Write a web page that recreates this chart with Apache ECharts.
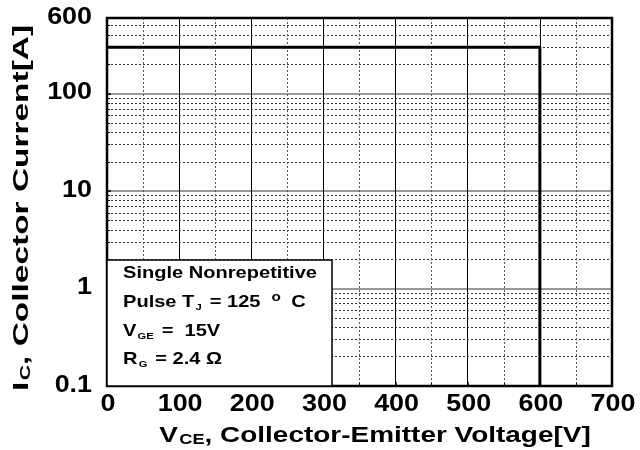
<!DOCTYPE html>
<html>
<head>
<meta charset="utf-8">
<script src="https://cdn.jsdelivr.net/npm/echarts@6/dist/echarts.min.js"></script>
<style>html,body{margin:0;padding:0;background:#fff}#c{width:640px;height:450px}</style>
</head>
<body>
<div id="c"></div>
<script>
var soaX = [0, 600, 600];
var soaY = [300, 300, 0.1];
var xTickValues = [0, 100, 200, 300, 400, 500, 600, 700];
var yTickValues = [0.1, 1, 10, 100, 600];
var yMinorValues = [0.2,0.3,0.4,0.5,0.6,0.7,0.8,0.9,2,3,4,5,6,7,8,9,20,30,40,50,60,70,80,90,200,300,400,500];
var xMin = 0, xMax = 700, xInterval = 100;
var yMin = 0.1, yMax = 600;
var noteLines = [
  '{b|Single Nonrepetitive}',
  '{b|Pulse T}{s|J}{b| = 125  }{o|o}{b| C}',
  '{b|V}{s|GE}{b| =  15V}',
  '{b|R}{s|G}{b| = 2.4 Ω}'
];
var xTitle = '{b|V}{s|CE}{b|, Collector-Emitter Voltage[V]}';
var yTitle = '{b|I}{s|C}{b|, Collector Current[A]}';

var FONT = 'Liberation Sans';
var chart = echarts.init(document.getElementById('c'), null, {renderer: 'canvas'});
var lineData = soaX.map(function (x, i) { return [x, soaY[i]]; });

chart.setOption({
  animation: false,
  backgroundColor: '#fff',
  grid: {left: 107, right: 28, top: 18, bottom: 64, show: true, borderColor: '#000', borderWidth: 2.5, backgroundColor: 'transparent', z: 3},
  xAxis: {
    type: 'value', min: xMin, max: xMax, interval: xInterval,
    axisLine: {show: false},
    axisTick: {show: true, inside: true, length: 4, lineStyle: {color: '#000', width: 1.5}},
    minorTick: {show: true, splitNumber: 2, length: 3, lineStyle: {color: '#000'}},
    axisLabel: {show: false},
    splitLine: {show: true, lineStyle: {color: '#000', width: 1}},
    minorSplitLine: {show: true, lineStyle: {color: '#555', width: 1, type: [2, 2]}}
  },
  yAxis: [{
    type: 'log', logBase: 10, min: yMin, max: yMax,
    axisLine: {show: false},
    axisTick: {show: true, inside: true, length: 4, lineStyle: {color: '#000', width: 1.5}},
    axisLabel: {show: false},
    splitLine: {show: true, lineStyle: {color: '#777', width: 1.5}}
  }, {
    type: 'log', logBase: 10, min: yMin, max: yMax, position: 'left',
    axisLine: {show: false},
    axisLabel: {show: false},
    axisTick: {show: true, inside: true, length: 3, lineStyle: {color: '#000'}, customValues: yMinorValues},
    splitLine: {show: true, lineStyle: {color: '#333', width: 1, type: [2, 2]}}
  }],
  series: [{
    type: 'line', data: lineData, symbol: 'none', z: 5,
    lineStyle: {color: '#000', width: 3}
  }]
});

var bold = function (size) { return {fontFamily: FONT, fontWeight: 'bold', fontSize: size, color: '#000'}; };
var graphics = [];
// tick labels positioned through the axes' own scales
xTickValues.forEach(function (v) {
  var px = chart.convertToPixel({xAxisIndex: 0}, v);
  graphics.push({type: 'text', z: 30, x: px + 1, y: 404, scaleX: 1.12,
    style: Object.assign(bold(24), {text: String(v), align: 'center', verticalAlign: 'middle'})});
});
yTickValues.forEach(function (v) {
  var py = chart.convertToPixel({yAxisIndex: 0}, v);
  graphics.push({type: 'text', z: 30, x: 92, y: py - 1, scaleX: 1.12,
    style: Object.assign(bold(24), {text: String(v), align: 'right', verticalAlign: 'middle'})});
});
// axis titles
graphics.push({type: 'text', z: 30, x: 375, y: 436, scaleX: 1.3,
  style: {text: xTitle, align: 'center', verticalAlign: 'middle', rich: {
    b: bold(21.5), s: Object.assign(bold(14), {padding: [9, 0, 0, 1]})}}});
graphics.push({type: 'text', z: 30, x: 22, y: 208, rotation: Math.PI / 2, scaleX: 1.52,
  style: {text: yTitle, align: 'center', verticalAlign: 'middle', rich: {
    b: bold(22), s: Object.assign(bold(14), {padding: [9, 0, 0, 1]})}}});
// note box
graphics.push({type: 'rect', z: 20, shape: {x: 107, y: 260, width: 225, height: 126},
  style: {fill: '#fff', stroke: '#000', lineWidth: 1.5}});
var noteY = [273, 302, 331, 359];
noteLines.forEach(function (t, i) {
  graphics.push({type: 'text', z: 30, x: 123, y: noteY[i], scaleX: 1.18,
    style: {text: t, align: 'left', verticalAlign: 'middle', rich: {
      b: bold(17),
      s: Object.assign(bold(9.5), {padding: [10, 2, 0, 1]}),
      o: Object.assign(bold(13), {padding: [0, 4, 10, 0]})
    }}});
});
chart.setOption({graphic: graphics});
</script>
</body>
</html>
